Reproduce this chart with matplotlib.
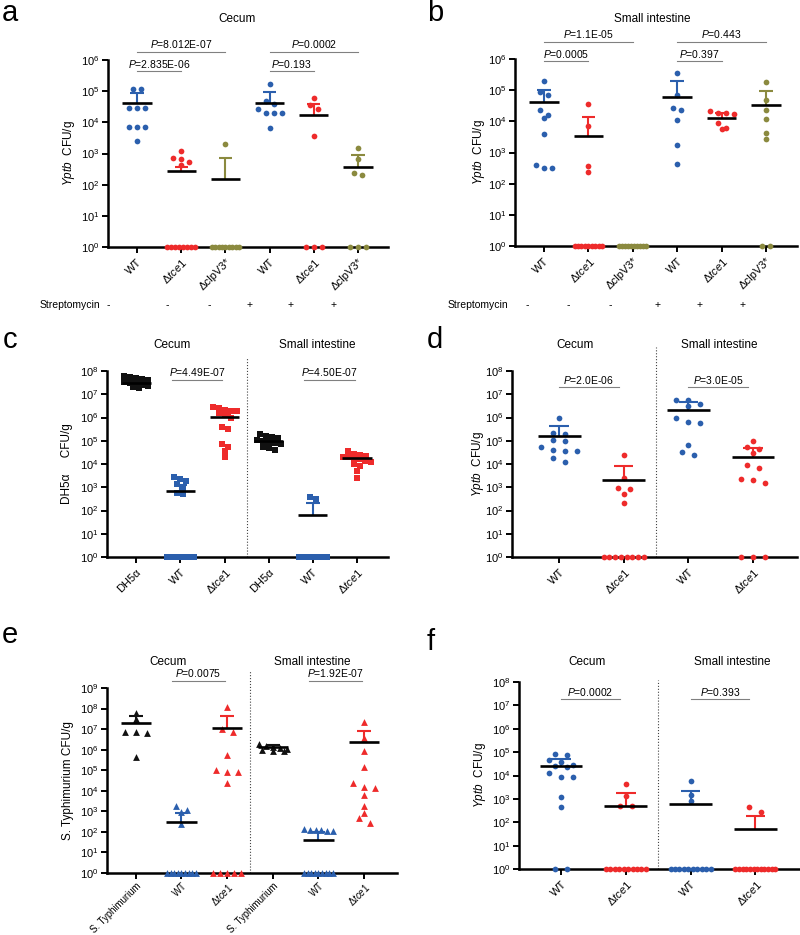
import numpy as np
import matplotlib
matplotlib.use('Agg')
import matplotlib.pyplot as plt
from matplotlib import transforms
from matplotlib.ticker import NullLocator

plt.rcParams['font.family'] = ['Liberation Sans', 'DejaVu Sans']
plt.rcParams['mathtext.fontset'] = 'custom'
plt.rcParams['mathtext.rm'] = 'Liberation Sans'
plt.rcParams['mathtext.it'] = 'Liberation Sans:italic'
plt.rcParams['mathtext.bf'] = 'Liberation Sans:bold'

BLUE = '#2b5fad'
RED = '#ee2b2b'
OLIVE = '#8b8a3f'
BLACK = '#111111'
TCE = 'Δ$\\mathit{tce1}$'
YPTB = '$\\mathit{Yptb}$  CFU/g'

# ---- panel a : cecum, Yptb (streptomycin - / +) ----
a_labels = ['WT', TCE, 'ΔclpV3*', 'WT', TCE, 'ΔclpV3*']
a_values = [
    [1.2e5, 1.2e5, 2.8e4, 2.8e4, 2.8e4, 7.2e3, 7.2e3, 7.2e3, 2.6e3],
    [1.2e3, 7.0e2, 6.5e2, 5.4e2, 4.2e2, 1, 1, 1, 1, 1, 1, 1, 1],
    [2.0e3, 1, 1, 1, 1, 1, 1, 1, 1, 1],
    [1.75e5, 4.8e4, 3.9e4, 2.6e4, 1.95e4, 1.95e4, 1.95e4, 6.6e3],
    [6.2e4, 3.5e4, 2.7e4, 3.7e3, 1, 1, 1],
    [1.5e3, 6.5e2, 2.3e2, 2.0e2, 1, 1, 1],
]
a_mean = [4.1e4, 2.8e2, 1.5e2, 4.3e4, 1.7e4, 3.7e2]
a_top = [8.5e4, 3.8e2, 7.2e2, 9.5e4, 3.9e4, 9.0e2]
a_pairs = [(0, 2), (0, 1), (3, 5), (3, 4)]
a_ptext = ['8.012E-07', '2.835E-06', '0.0002', '0.193']

# ---- panel b : small intestine, Yptb ----
b_labels = a_labels
b_values = [
    [1.9e5, 7.1e4, 8.9e4, 2.3e4, 1.6e4, 1.3e4, 3.9e3, 3.1e2, 4.0e2, 3.2e2],
    [3.6e4, 7.2e3, 3.6e2, 2.3e2, 1, 1, 1, 1, 1, 1, 1, 1, 1],
    [1, 1, 1, 1, 1, 1, 1, 1, 1, 1],
    [3.5e5, 7.1e4, 2.6e4, 2.3e4, 1.1e4, 1.7e3, 4.3e2],
    [2.2e4, 1.9e4, 1.8e4, 1.7e4, 9.0e3, 6.3e3, 5.5e3],
    [1.8e5, 4.9e4, 2.3e4, 1.2e4, 4.2e3, 2.8e3, 1, 1],
]
b_mean = [4.1e4, 3.4e3, None, 5.9e4, 1.25e4, 3.3e4]
b_top = [1.0e5, 1.35e4, None, 1.9e5, 1.8e4, 9.5e4]
b_pairs = [(0, 2), (0, 1), (3, 5), (3, 4)]
b_ptext = ['1.1E-05', '0.0005', '0.443', '0.397']
strep_signs = ['-', '-', '-', '+', '+', '+']

# ---- panel c : DH5alpha ----
c_labels = ['DH5α', 'WT', TCE, 'DH5α', 'WT', TCE]
c_values = [
    [6.3e7, 5.6e7, 5.0e7, 4.5e7, 4.0e7, 3.5e7, 3.2e7, 2.8e7, 2.5e7, 2.2e7, 2.0e7, 1.8e7],
    [2.8e3, 2.2e3, 1.8e3, 1.4e3, 8.9e2, 5.6e2, 5.0e2, 1, 1, 1, 1, 1, 1, 1],
    [2.8e6, 2.5e6, 2.2e6, 2.0e6, 2.0e6, 1.6e6, 1.3e6, 1.0e6, 4.0e5, 3.2e5,
     7.1e4, 5.6e4, 3.5e4, 2.0e4],
    [2.0e5, 1.6e5, 1.4e5, 1.26e5, 1.12e5, 1.0e5, 8.9e4, 7.9e4, 7.1e4, 5.6e4, 5.0e4, 4.0e4],
    [3.9e2, 3.0e2, 1, 1, 1, 1, 1, 1, 1, 1],
    [3.5e4, 2.8e4, 2.5e4, 2.2e4, 2.0e4, 2.0e4, 1.8e4, 1.6e4, 1.4e4, 1.26e4,
     1.0e4, 8.0e3, 5.0e3, 2.4e3],
]
c_mean = [3.2e7, 7.2e2, 1.07e6, 1.0e5, 63, 1.9e4]
c_top = [3.6e7, 1.3e3, 1.3e6, 1.15e5, 2.1e2, 2.2e4]
c_pairs = [(1, 2), (4, 5)]
c_ptext = ['4.49E-07', '4.50E-07']

# ---- panel d : Yptb, cecum / small intestine ----
d_labels = ['WT', TCE, 'WT', TCE]
d_values = [
    [9.3e5, 1.95e5, 2.1e5, 9.3e4, 1.1e5, 3.7e4, 3.5e4, 4.0e4, 5.5e4, 1.2e4, 1.75e4],
    [2.5e4, 2.5e3, 8.5e2, 9.1e2, 5.1e2, 2.1e2, 1, 1, 1, 1, 1, 1, 1, 1],
    [5.9e6, 5.9e6, 3.0e6, 4.0e6, 6.5e5, 9.5e5, 5.8e5, 6.8e4, 2.5e4, 3.3e4],
    [9.8e4, 4.6e4, 5.4e4, 3.0e4, 9.3e3, 6.8e3, 2.0e3, 2.3e3, 1.5e3, 1, 1, 1],
]
d_mean = [1.6e5, 2.1e3, 2.1e6, 2.1e4]
d_top = [4.4e5, 7.9e3, 4.7e6, 4.9e4]
d_pairs = [(0, 1), (2, 3)]
d_ptext = ['2.0E-06', '3.0E-05']

# ---- panel e : S. Typhimurium ----
e_labels = ['S. Typhimurium', 'WT', TCE, 'S. Typhimurium', 'WT', TCE]
e_values = [
    [6.0e7, 3.2e7, 6.3e6, 7.6e6, 7.6e6, 4.2e5],
    [1.8e3, 1.1e3, 9.0e2, 2.5e2, 1, 1, 1, 1, 1, 1, 1, 1, 1],
    [1.2e8, 1.05e7, 7.2e6, 5.6e5, 7.9e4, 8.5e4, 1.05e5, 2.3e4, 1, 1, 1, 1, 1],
    [1.9e6, 1.5e6, 1.3e6, 1.2e6, 1.1e6, 1.0e6, 8.9e5, 8.3e5],
    [1.4e2, 1.3e2, 1.25e2, 1.2e2, 1.12e2, 1.12e2, 1, 1, 1, 1, 1, 1, 1, 1, 1],
    [2.2e7, 3.5e6, 8.3e5, 1.4e5, 2.3e4, 1.35e4, 1.6e4, 5.9e3, 1.8e3, 8.5e2, 4.6e2, 2.8e2],
]
e_mean = [2.0e7, 3.1e2, 1.1e7, 1.35e6, 40, 2.4e6]
e_top = [4.5e7, 8.5e2, 4.2e7, 1.6e6, 1.0e2, 7.9e6]
e_pairs = [(1, 2), (4, 5)]
e_ptext = ['0.0075', '1.92E-07']

# ---- panel f : Yptb, cecum / small intestine ----
f_labels = ['WT', TCE, 'WT', TCE]
f_values = [
    [7.8e4, 8.3e4, 4.5e4, 2.75e4, 2.6e4, 3.9e4, 2.2e4, 1.3e4, 8.7e3, 8.3e3, 1.2e3, 4.4e2, 1, 1],
    [4.5e3, 1.3e3, 5.2e2, 4.8e2, 1, 1, 1, 1, 1, 1, 1, 1, 1, 1],
    [5.9e3, 1.4e3, 8.5e2, 1, 1, 1, 1, 1, 1, 1, 1, 1, 1],
    [4.5e2, 2.75e2, 1, 1, 1, 1, 1, 1, 1, 1, 1, 1, 1, 1],
]
f_mean = [2.5e4, 5.1e2, 6.0e2, 53]
f_top = [5.1e4, 1.8e3, 2.2e3, 1.9e2]
f_pairs = [(0, 1), (2, 3)]
f_ptext = ['0.0002', '0.393']

W, H = 800, 935
fig = plt.figure(figsize=(W / 100, H / 100), dpi=100)


def px_axes(l, t, r, b):
    return fig.add_axes([l / W, 1 - b / H, (r - l) / W, (b - t) / H])


def ftext(x, y, s, **kw):
    fig.text(x / W, 1 - y / H, s, **kw)


def swarm(ax, i, vals, step, ydiam=5.0, spread=0.62):
    pts = ax.transData.transform(np.column_stack([np.full(len(vals), float(i)), vals]))
    cat_px = ax.transData.transform((i + 1, 1))[0] - ax.transData.transform((i, 1))[0]
    y = pts[:, 1]
    offs = np.zeros(len(vals))
    rows = [list(np.where(vals <= 1)[0])]
    nz = np.where(vals > 1)[0]
    order = nz[np.argsort(-y[nz])]
    cur = []
    for k in order:
        if cur and abs(y[k] - y[cur[0]]) > ydiam:
            rows.append(cur)
            cur = []
        cur.append(k)
    rows.append(cur)
    for r in rows:
        n = len(r)
        if n == 0:
            continue
        s = step if n == 1 else min(step, spread * cat_px / (n - 1))
        offs[r] = (np.arange(n) - (n - 1) / 2) * s
    back = ax.transData.inverted().transform(np.column_stack([pts[:, 0] + offs, y]))
    return back[:, 0]


def panel(rect, xlim, ymax, labels, values, means, tops, colors, marker, size,
          step, ylabel, labx, xfont=8):
    ax = px_axes(*rect)
    ax.set_yscale('log')
    ax.set_xlim(*xlim)
    ax.set_ylim(1, ymax)
    ax.set_yticks([10.0 ** k for k in range(int(np.log10(ymax)) + 1)])
    ax.yaxis.set_minor_locator(NullLocator())
    ax.set_xticks(range(len(labels)))
    ax.set_xticklabels(labels, rotation=45, ha='right', rotation_mode='anchor', fontsize=xfont)
    for s in ['top', 'right']:
        ax.spines[s].set_visible(False)
    for s in ['left', 'bottom']:
        ax.spines[s].set_linewidth(1.8)
    ax.tick_params(axis='both', width=1.4, length=4, labelsize=8, pad=2)
    ax.tick_params(axis='x', pad=3 if xfont >= 8 else 1.5, labelsize=xfont)
    for i, vals in enumerate(values):
        vals = np.asarray(vals, float)
        xs = swarm(ax, i, vals, step)
        ax.scatter(xs, vals, s=size, marker=marker, color=colors[i], linewidths=0,
                   clip_on=False, zorder=4)
        if means[i] is not None:
            ax.vlines(i, means[i], tops[i], color=colors[i], lw=1.5, zorder=5)
            ax.hlines(tops[i], i - 0.15, i + 0.15, color=colors[i], lw=1.5, zorder=5)
            ax.hlines(means[i], i - 0.33, i + 0.33, color='black', lw=1.9, zorder=6)
    ax.set_ylabel(ylabel, fontsize=8.5)
    ax.yaxis.set_label_coords(labx, 0.5)
    return ax


def brackets(ax, pairs, ptext, levels, dx0=0.0, dx1=0.0):
    tr = transforms.blended_transform_factory(ax.transData, ax.transAxes)
    for (i, j), t, lv in zip(pairs, ptext, levels):
        x0, x1 = i + dx0, j + dx1
        ax.plot([x0, x1], [lv, lv], color='#808080', lw=0.8, transform=tr, clip_on=False)
        ax.text((x0 + x1) / 2, lv + 0.008, '$\\mathit{P}$=' + t, transform=tr,
                ha='center', va='bottom', fontsize=7.5)


def divider(ax, x, top):
    tr = transforms.blended_transform_factory(ax.transData, ax.transAxes)
    ax.plot([x, x], [0, top], transform=tr, ls=':', color='#444444', lw=0.8, clip_on=False)


abc = [BLUE, RED, OLIVE] * 2
ax = panel((108, 60, 388, 247), (-0.656, 5.68), 1e6, a_labels, a_values, a_mean, a_top,
           abc, 'o', 17, 8, YPTB, -0.11)
brackets(ax, a_pairs, a_ptext, [1.043, 0.941, 1.043, 0.941])

ax = panel((515, 59, 797, 246), (-0.65, 5.7), 1e6, b_labels, b_values, b_mean, b_top,
           abc, 'o', 17, 8, YPTB, -0.10)
brackets(ax, b_pairs, b_ptext, [1.091, 0.989, 1.091, 0.989])

ax = panel((107, 371, 388, 557), (-0.66, 5.7), 1e8, c_labels, c_values, c_mean, c_top,
           [BLACK, BLUE, RED] * 2, 's', 20, 6, 'DH5α     CFU/g', -0.12)
brackets(ax, c_pairs, c_ptext, [0.952, 0.952], -0.2, -0.05)
divider(ax, 2.5, 1.07)

ax = panel((512, 371, 797, 557), (-0.73, 3.68), 1e8, d_labels, d_values, d_mean, d_top,
           [BLUE, RED] * 2, 'o', 17, 12, YPTB, -0.09)
brackets(ax, d_pairs, d_ptext, [0.914, 0.914], 0.0, -0.08)
divider(ax, 1.5, 1.13)

ax = panel((107, 688, 397, 873), (-0.63, 5.72), 1e9, e_labels, e_values, e_mean, e_top,
           [BLACK, BLUE, RED] * 2, '^', 24, 11, 'S. Typhimurium CFU/g', -0.115, xfont=6.9)
brackets(ax, e_pairs, e_ptext, [1.038, 1.038], -0.2, -0.05)
divider(ax, 2.5, 1.097)

ax = panel((519, 682, 800, 869), (-0.65, 3.69), 1e8, f_labels, f_values, f_mean, f_top,
           [BLUE, RED] * 2, 'o', 17, 12, YPTB, -0.11)
brackets(ax, f_pairs, f_ptext, [0.909, 0.909], 0.0, -0.09)
divider(ax, 1.5, 1.01)

# titles
for x, y, s in [(237, 19, 'Cecum'), (652, 19, 'Small intestine'),
                (172, 345, 'Cecum'), (317, 345, 'Small intestine'),
                (575, 345, 'Cecum'), (719, 345, 'Small intestine'),
                (168, 662, 'Cecum'), (312, 662, 'Small intestine'),
                (587, 662, 'Cecum'), (732, 662, 'Small intestine')]:
    ftext(x, y, s, ha='center', va='center', fontsize=8.5)

# panel letters
for x, y, s in [(2, 21, 'a'), (427, 21, 'b'), (3, 348, 'c'), (427, 348, 'd'),
                (2, 643, 'e'), (427, 650, 'f')]:
    ftext(x, y, s, ha='left', va='baseline', fontsize=21)

# streptomycin rows
ftext(40, 305, 'Streptomycin', ha='left', va='center', fontsize=7.5)
for x, s in zip([108, 167, 209, 250, 291, 334], strep_signs):
    ftext(x, 305, s, ha='center', va='center', fontsize=7.5)
ftext(448, 305, 'Streptomycin', ha='left', va='center', fontsize=7.5)
for x, s in zip([527, 568, 610, 658, 700, 743], strep_signs):
    ftext(x, 305, s, ha='center', va='center', fontsize=7.5)

fig.savefig('out.png', dpi=100)
